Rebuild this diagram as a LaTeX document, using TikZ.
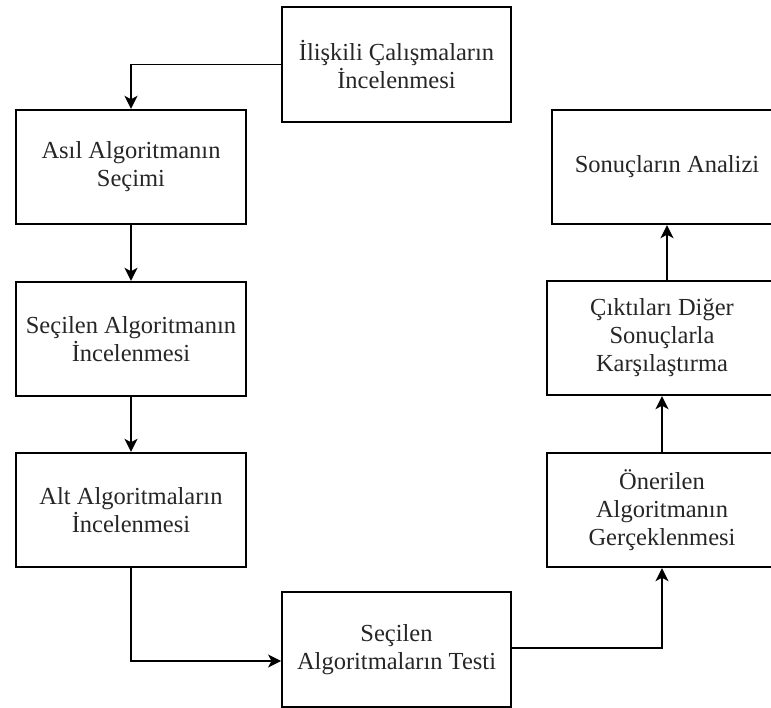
\documentclass[tikz,border=0pt]{standalone}
\usepackage{fontspec}
\setmainfont{Liberation Serif}
\usetikzlibrary{arrows.meta}
\begin{document}
\begin{tikzpicture}[x=1pt,y=-1pt,
  box/.style={draw=black, line width=1.9pt, fill=white, minimum width=230pt, minimum height=114.5pt,
    inner sep=0pt, align=center, font=\fontsize{24.5}{28}\selectfont, text=black!85},
  conn/.style={draw=black, line width=1.7pt, -{Stealth[length=13pt,width=13pt,inset=3.5pt]}}]
\clip (0,0) rectangle (771,708);
\fill[white] (0,0) rectangle (771,708);
\node[box, minimum width=229pt] (b1) at (396.5,64.5) {İlişkili Çalışmaların\\İncelenmesi};
\node[box] (b2) at (131,167) {Asıl Algoritmanın\\Seçimi};
\node[box] (b3) at (131,339) {Seçilen Algoritmanın\\İncelenmesi};
\node[box] (b4) at (131,510) {Alt Algoritmaların\\İncelenmesi};
\node[box, minimum width=229pt] (b5) at (396.5,649.5) {Seçilen\\Algoritmaların Testi};
\node[box] (b6) at (662,510) {Önerilen\\Algoritmanın\\Gerçeklenmesi};
\node[box] (b7) at (662,338) {Çıktıları Diğer\\Sonuçlarla\\Karşılaştırma};
\node[box] (b8) at (667,167) {Sonuçların Analizi};
\draw[conn] (b1.west) -| (b2.north);
\draw[conn] (b2.south) -- (b3.north);
\draw[conn] (b3.south) -- (b4.north);
\draw[conn] (b4.south) |- ([yshift=-11.5pt]b5.west);
\draw[conn] ([yshift=1.5pt]b5.east) -| (b6.south);
\draw[conn] (b6.north) -- (b7.south);
\draw[conn] (b8.south |- b7.north) -- (b8.south);
\end{tikzpicture}
\end{document}
